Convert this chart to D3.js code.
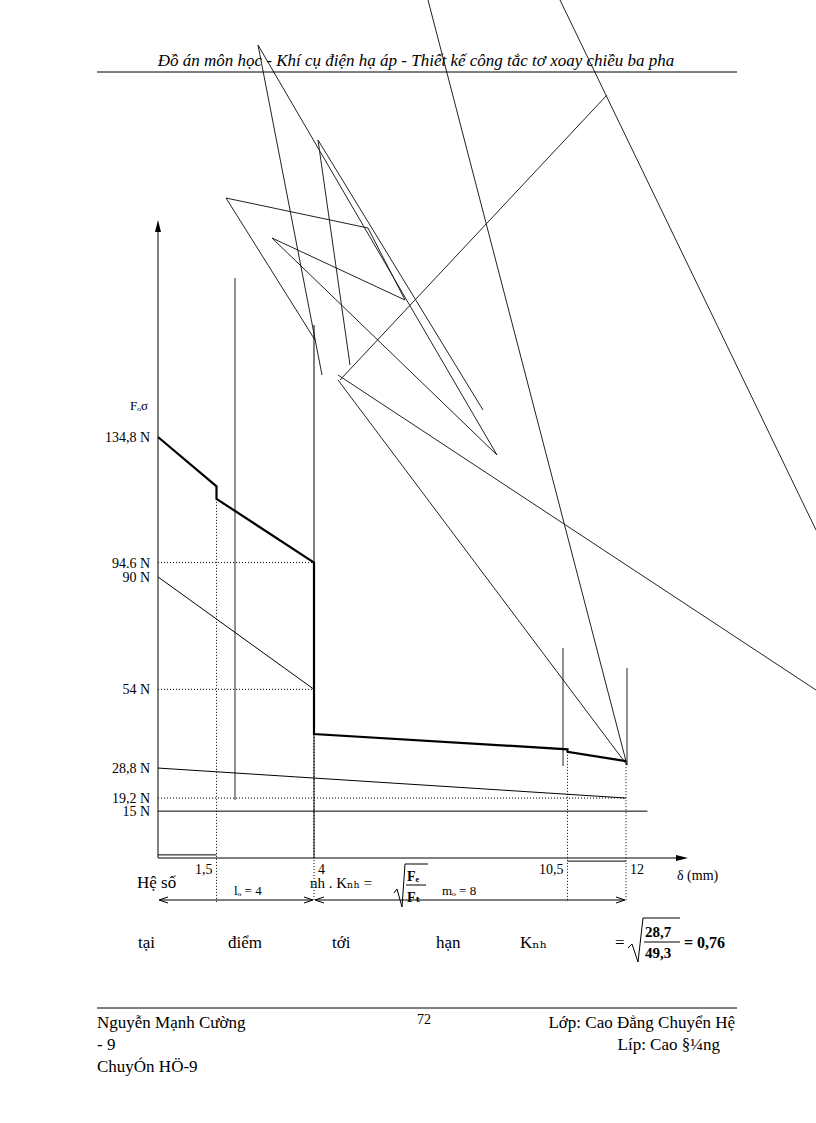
<!DOCTYPE html>
<html><head><meta charset="utf-8">
<script src="https://cdn.jsdelivr.net/npm/d3@7"></script>
<style>body{margin:0;background:#fff}svg{font-family:"Liberation Serif","DejaVu Serif",serif}</style>
</head><body><svg id="c" width="816" height="1123"></svg>
<script>
// force characteristic data (mm, N)
const thickCurve = [[0,134.8],[1.5,119],[1.5,115],[4,94.6],[4,39.7],[10.5,34.8],[10.5,34],[12,31]];
const thinCurve = [[0,90],[4,54]];
const lowCurve = [[0,28.8],[4,25.6],[12,19.2]];
const baseLine = [[0,15],[12.55,15]];
const dottedLevels = [94.6, 54, 19.2];
const yTicks = [134.8, 94.6, 90, 54, 28.8, 19.2, 15];
const yTickLabels = ["134,8 N","94.6 N","90 N","54 N","28,8 N","19,2 N","15 N"];
const xTicks = [1.5, 4, 10.5, 12];
const xTickLabels = ["1,5","4","10,5","12"];
// scan artifacts, page pixels
const strayLines = [[428,0,627,765],[560,0,816,530],[258,45,322,375],[258,45,497,455],[318,140,483,410],
  [318,140,350,365],[226,198,368,228],[226,198,315,340],[368,228,405,300],[272,238,497,455],[272,238,405,300],
  [340,380,607,95],[338,375,816,690],[338,380,627,765],[235,278,235,800],[563,648,563,766],[627,668,627,765]];

const svg = d3.select("#c");
const x = d3.scaleLinear().domain([0,12]).range([158,626]);
const y = d3.scaleLinear().domain([0,134.8]).range([858,437]);

svg.append("g").selectAll("line").data(strayLines).join("line")
  .attr("x1",d=>d[0]).attr("y1",d=>d[1]).attr("x2",d=>d[2]).attr("y2",d=>d[3])
  .attr("stroke","#222").attr("stroke-width",1);

// header/footer
svg.append("text").attr("x",416).attr("y",66).attr("text-anchor","middle").attr("font-style","italic")
  .attr("font-size",17).text("Đồ án môn học - Khí cụ điện hạ áp - Thiết kế công tắc tơ xoay chiều ba pha");
svg.append("line").attr("x1",97).attr("x2",737).attr("y1",72).attr("y2",72).attr("stroke","#000");
svg.append("line").attr("x1",97).attr("x2",737).attr("y1",1008).attr("y2",1008).attr("stroke","#000");
const foot = [[97,1028,"Nguyễn Mạnh Cường","start"],[97,1050,"- 9","start"],[97,1072,"ChuyÓn HÖ-9","start"],
  [735,1028,"Lớp: Cao Đẳng Chuyển Hệ","end"],[720,1050,"Líp: Cao §¼ng","end"]];
svg.selectAll(".ft").data(foot).join("text").attr("x",d=>d[0]).attr("y",d=>d[1]).attr("text-anchor",d=>d[3])
  .attr("font-size",17).text(d=>d[2]);
svg.append("text").attr("x",424).attr("y",1024).attr("text-anchor","middle").attr("font-size",14).text("72");

// axes
const ax = svg.append("g").attr("stroke","#000");
ax.append("line").attr("x1",x(0)).attr("x2",x(0)).attr("y1",858).attr("y2",228);
ax.append("line").attr("x1",x(0)).attr("x2",680).attr("y1",858).attr("y2",858);
svg.append("path").attr("d","M155,232L158,220L161,232Z");
svg.append("path").attr("d","M676,855L688,858L676,861Z");
svg.append("text").attr("x",130).attr("y",410).attr("font-size",13).text("Fₒσ");
svg.append("text").attr("x",677).attr("y",880).attr("font-size",14).text("δ (mm)");

svg.selectAll(".yt").data(yTicks).join("text").attr("x",150).attr("y",d=>y(d)+5)
  .attr("text-anchor","end").attr("font-size",14).text((d,i)=>yTickLabels[i]);
svg.selectAll(".xt").data(xTicks).join("text").attr("x",d=>x(d)+(d==10.5?-4:(d==1.5?-4:4))).attr("y",874)
  .attr("text-anchor",d=>(d==10.5||d==1.5)?"end":"start").attr("font-size",14).text((d,i)=>xTickLabels[i]);

// dotted guides
svg.selectAll(".dl").data(dottedLevels).join("line").attr("x1",x(0)).attr("x2",d=>d==19.2?x(12):x(4))
  .attr("y1",d=>y(d)).attr("y2",d=>y(d)).attr("stroke","#000").attr("stroke-dasharray","1,2");
svg.selectAll(".dv").data(xTicks).join("line").attr("x1",d=>x(d)).attr("x2",d=>x(d))
  .attr("y1",d=>d==1.5?y(115):d==4?y(39.7):d==10.5?y(34):y(31)).attr("y2",902)
  .attr("stroke","#000").attr("stroke-dasharray","1,2");
svg.append("line").attr("x1",x(4)).attr("x2",x(4)).attr("y1",325).attr("y2",y(0)).attr("stroke","#000");

const line = d3.line().x(d=>x(d[0])).y(d=>y(d[1]));
svg.append("path").attr("d",line(thickCurve)).attr("fill","none").attr("stroke","#000").attr("stroke-width",2.2);
svg.append("path").attr("d",line(thinCurve)).attr("fill","none").attr("stroke","#000");
svg.append("path").attr("d",line(lowCurve)).attr("fill","none").attr("stroke","#000");
svg.append("path").attr("d",line(baseLine)).attr("fill","none").attr("stroke","#000");
svg.append("path").attr("d",line([[0,1],[1.5,1]])).attr("fill","none").attr("stroke","#000");
svg.append("path").attr("d",line([[10.5,-1],[12,-1]])).attr("fill","none").attr("stroke","#000");

// dimension arrows
[[0,4],[4,12]].forEach(([a,b])=>{
  svg.append("line").attr("x1",x(a)+2).attr("x2",x(b)-2).attr("y1",900).attr("y2",900).attr("stroke","#000");
  svg.append("path").attr("d",`M${x(a)+10},897L${x(a)+1},900L${x(a)+10},903`).attr("fill","none").attr("stroke","#000");
  svg.append("path").attr("d",`M${x(b)-10},897L${x(b)-1},900L${x(b)-10},903`).attr("fill","none").attr("stroke","#000");
});
svg.append("text").attr("x",234).attr("y",895).attr("font-size",13).text("lₒ = 4");
svg.append("text").attr("x",442).attr("y",895).attr("font-size",13).text("mₒ = 8");
svg.append("text").attr("x",137).attr("y",888).attr("font-size",17).text("Hệ số");
svg.append("text").attr("x",310).attr("y",888).attr("font-size",15).text("nh . Kₙₕ =");
svg.append("path").attr("d","M394,893L397,889L402,907L405,864L428,864").attr("fill","none").attr("stroke","#000");
svg.append("text").attr("x",407).attr("y",881).attr("font-size",14).attr("font-weight","bold").text("Fₑ");
svg.append("line").attr("x1",406).attr("x2",426).attr("y1",885).attr("y2",885).attr("stroke","#000");
svg.append("text").attr("x",407).attr("y",902).attr("font-size",14).attr("font-weight","bold").text("Fₜ");

const words = [[138,"tại"],[228,"điểm"],[332,"tới"],[436,"hạn"],[520,"Kₙₕ"],[615,"="]];
svg.selectAll(".w").data(words).join("text").attr("x",d=>d[0]).attr("y",948).attr("font-size",17).text(d=>d[1]);
svg.append("path").attr("d","M628,948L632,944L638,962L643,918L680,918").attr("fill","none").attr("stroke","#000");
svg.append("text").attr("x",645).attr("y",937).attr("font-size",15).attr("font-weight","bold").text("28,7");
svg.append("line").attr("x1",644).attr("x2",680).attr("y1",942).attr("y2",942).attr("stroke","#000");
svg.append("text").attr("x",645).attr("y",958).attr("font-size",15).attr("font-weight","bold").text("49,3");
svg.append("text").attr("x",684).attr("y",948).attr("font-size",16).attr("font-weight","bold").text("= 0,76");
</script></body></html>
